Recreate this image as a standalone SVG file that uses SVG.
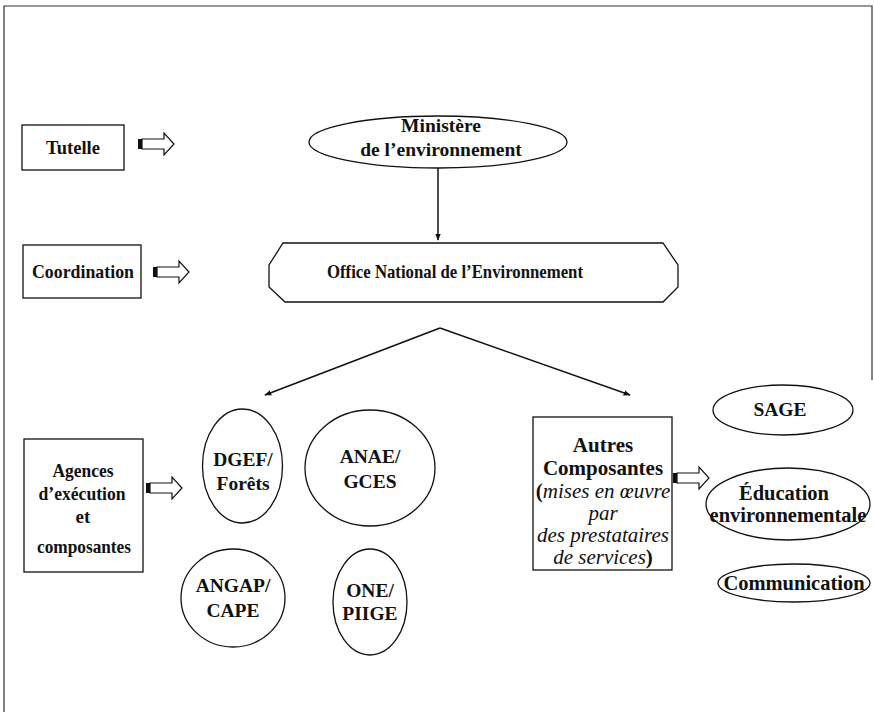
<svg xmlns="http://www.w3.org/2000/svg" width="874" height="716" viewBox="0 0 874 716">
<style>
.b{fill:#fff;stroke:#111;stroke-width:1.3}
.t{font-family:"Liberation Serif","Times New Roman",serif;font-weight:bold;font-size:19.5px;fill:#111;text-anchor:middle}
.n{font-size:19px}
.a{font-size:21px}
.e{font-size:20.5px}
.i{font-style:italic;font-weight:normal}
.c{stroke:#111;stroke-width:1.5;fill:none}
.h{fill:#fff;stroke:#111;stroke-width:1.2}
</style>
<defs>
<marker id="ah" viewBox="0 0 10 10" refX="9" refY="5" markerWidth="7" markerHeight="7" orient="auto" markerUnits="userSpaceOnUse">
<path d="M0,1 L10,5 L0,9 z" fill="#111"/>
</marker>
<g id="hollow">
<rect x="0" y="-5" width="4" height="10" fill="#111"/>
<path class="h" d="M4,-5 H26 V-11 L36,0 L26,11 V5 H4 z"/>
</g>
</defs>
<rect width="874" height="716" fill="#fff"/>
<g id="frame" stroke="#333" stroke-width="1.2" fill="none">
<path d="M4,712 V6 H872 V380"/>
</g>
<g id="connectors">
<path class="c" d="M438,167 V240" marker-end="url(#ah)"/>
<path class="c" d="M440,328 L265,395" marker-end="url(#ah)"/>
<path class="c" d="M440,328 L630,395" marker-end="url(#ah)"/>
<use href="#hollow" x="138" y="144"/>
<use href="#hollow" x="153" y="272"/>
<use href="#hollow" x="146" y="488"/>
<use href="#hollow" x="673" y="478"/>
</g>
<g id="tutelle">
<rect class="b" x="22" y="125" width="102" height="45"/>
<text class="t n" x="73" y="154" textLength="54" lengthAdjust="spacingAndGlyphs">Tutelle</text>
</g>
<g id="coordination">
<rect class="b" x="23" y="245" width="118" height="53"/>
<text class="t n" x="83" y="278" textLength="102" lengthAdjust="spacingAndGlyphs">Coordination</text>
</g>
<g id="agences">
<rect class="b" x="24" y="439" width="119" height="133"/>
<text class="t n" x="83" y="477" textLength="61" lengthAdjust="spacingAndGlyphs">Agences</text>
<text class="t n" x="82" y="500" textLength="87" lengthAdjust="spacingAndGlyphs">d’exécution</text>
<text class="t n" x="83" y="523">et</text>
<text class="t n" x="84" y="553" textLength="94" lengthAdjust="spacingAndGlyphs">composantes</text>
</g>
<g id="ministere">
<ellipse class="b" cx="438" cy="142" rx="129" ry="26"/>
<text class="t" x="441" y="132">Ministère</text>
<text class="t" x="441" y="156">de l’environnement</text>
</g>
<g id="one-national">
<path class="b" d="M283,243 H663 L678,265 V287 L663,302 H285 L269,287 V265 z"/>
<text class="t n" x="455" y="278" textLength="256" lengthAdjust="spacingAndGlyphs">Office National de l’Environnement</text>
</g>
<g id="dgef">
<ellipse class="b" cx="242.5" cy="466" rx="40" ry="57"/>
<text class="t" x="243" y="466">DGEF/</text>
<text class="t" x="243" y="490">Forêts</text>
</g>
<g id="anae">
<ellipse class="b" cx="370" cy="468" rx="65" ry="58"/>
<text class="t" x="370" y="463">ANAE/</text>
<text class="t" x="370" y="488">GCES</text>
</g>
<g id="angap">
<ellipse class="b" cx="233" cy="598" rx="52" ry="49"/>
<text class="t" x="233" y="592">ANGAP/</text>
<text class="t" x="233" y="617">CAPE</text>
</g>
<g id="one-piige">
<ellipse class="b" cx="370" cy="602" rx="37" ry="53"/>
<text class="t" x="370" y="597">ONE/</text>
<text class="t" x="370" y="620">PIIGE</text>
</g>
<g id="autres">
<rect class="b" x="533" y="417" width="139" height="153"/>
<text class="t a" x="603" y="452">Autres</text>
<text class="t a" x="603" y="475">Composantes</text>
<text class="t a" x="603" y="498">(<tspan class="i">mises en œuvre</tspan></text>
<text class="t a i" x="603" y="520">par</text>
<text class="t a i" x="603" y="542">des prestataires</text>
<text class="t a" x="603" y="564"><tspan class="i">de services</tspan>)</text>
</g>
<g id="sage">
<ellipse class="b" cx="783" cy="410" rx="70" ry="25"/>
<text class="t" x="780" y="416">SAGE</text>
</g>
<g id="education">
<ellipse class="b" cx="788" cy="504" rx="82" ry="36"/>
<text class="t e" x="784" y="500">Éducation</text>
<text class="t e" x="788" y="522">environnementale</text>
</g>
<g id="communication">
<ellipse class="b" cx="794" cy="583" rx="76" ry="19"/>
<text class="t e" x="794" y="590">Communication</text>
</g>
</svg>
